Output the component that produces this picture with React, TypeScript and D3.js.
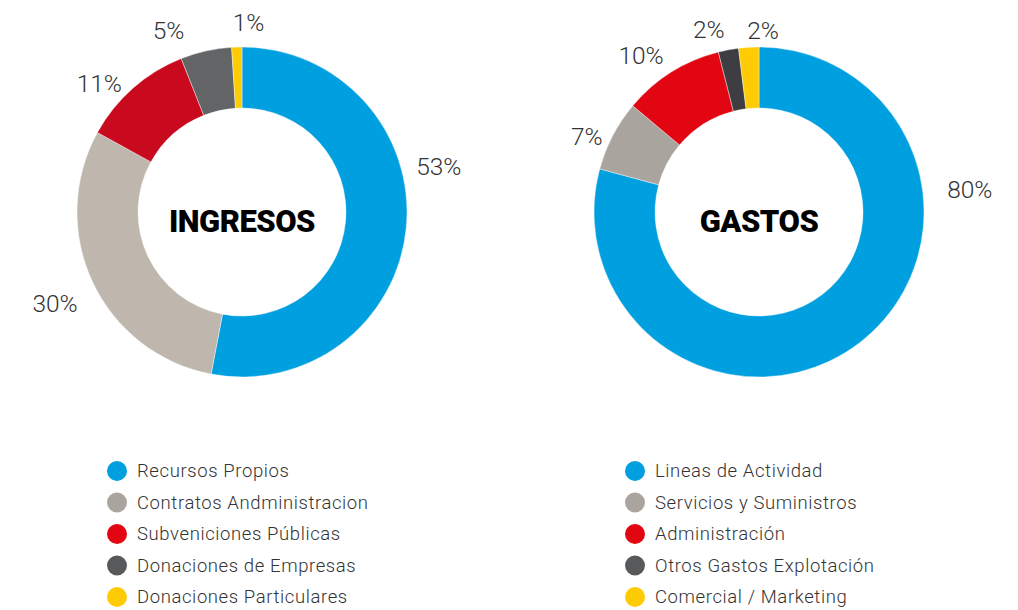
import React from "react";
import * as d3 from "d3";

// Ingresos (income) breakdown, % shares read clockwise from 12 o'clock
const ingresosLabels = [
  "Recursos Propios",
  "Contratos Andministracion",
  "Subveniciones Públicas",
  "Donaciones de Empresas",
  "Donaciones Particulares",
];
const ingresosValues = [53, 30, 11, 5, 1];
const ingresosColors = ["#009fe0", "#bfb7ae", "#c8091e", "#636466", "#ffcb05"];

// Gastos (expenses) breakdown
const gastosLabels = [
  "Lineas de Actividad",
  "Servicios y Suministros",
  "Administración",
  "Otros Gastos Explotación",
  "Comercial / Marketing",
];
const gastosValues = [80, 7, 10, 2, 2];
const gastosColors = ["#009fe0", "#aaa49e", "#e20613", "#3e3e42", "#ffcb05"];

const legendColors = ["#009fe0", "#aaa49e", "#e20613", "#58595b", "#ffcb05"];

// where each % label sits: [angle in degrees from 12 o'clock, distance from centre]
const ingresosLabelPos = [[77, 202], [244, 208], [312, 192], [338, 196], [2, 190]];
const gastosLabelPos = [[84, 212], [293.6, 188], [323, 196], [344.6, 189], [1.3, 182]];

const W = 1018;
const H = 610;
const outerR = 165;
const innerR = 104;
const font = "Roboto, 'Noto Sans', sans-serif";

type DonutProps = {
  cx: number;
  cy: number;
  title: string;
  values: number[];
  colors: string[];
  labelPos: number[][];
};

const Donut = ({ cx, cy, title, values, colors, labelPos }: DonutProps) => {
  const pie = d3.pie<number>().sort(null).value((d) => d);
  const arc = d3.arc<d3.PieArcDatum<number>>().innerRadius(innerR).outerRadius(outerR);
  const arcs = pie(values);
  return (
    <g transform={`translate(${cx},${cy})`}>
      {arcs.map((a, i) => (
        <path key={i} d={arc(a) || ""} fill={colors[i]} stroke="#fff" strokeWidth={0.4} />
      ))}
      {values.map((v, i) => {
        const [deg, r] = labelPos[i];
        const rad = (deg * Math.PI) / 180;
        return (
          <text
            key={"l" + i}
            x={Math.sin(rad) * r}
            y={-Math.cos(rad) * r}
            textAnchor="middle"
            dominantBaseline="central"
            fontFamily={font}
            fontWeight={300}
            fontSize={24.5}
            fill="#333"
          >
            {v}%
          </text>
        );
      })}
      <text
        x={0}
        y={9}
        textAnchor="middle"
        dominantBaseline="central"
        fontFamily={font}
        fontWeight={900}
        fontSize={31}
        letterSpacing={-0.5}
        fill="#000"
      >
        {title}
      </text>
    </g>
  );
};

const Legend = ({ x, y, labels }: { x: number; y: number; labels: string[] }) => {
  const rowY = d3.scalePoint<number>().domain(d3.range(labels.length)).range([0, 126]);
  return (
    <g transform={`translate(${x},${y})`}>
      {labels.map((l, i) => (
        <g key={i} transform={`translate(0,${rowY(i)})`}>
          <circle cx={0} cy={0} r={10} fill={legendColors[i]} />
          <text
            x={20}
            y={0}
            dominantBaseline="central"
            fontFamily={font}
            fontWeight={300}
            fontSize={18.5}
            letterSpacing={0.6}
            fill="#333"
          >
            {l}
          </text>
        </g>
      ))}
    </g>
  );
};

export default function App() {
  return (
    <svg width={W} height={H} style={{ display: "block", position: "absolute", left: 0, top: 0 }}>
      <rect width={W} height={H} fill="#fff" />
      <Donut cx={242} cy={212} title="INGRESOS" values={ingresosValues} colors={ingresosColors} labelPos={ingresosLabelPos} />
      <Donut cx={759} cy={212} title="GASTOS" values={gastosValues} colors={gastosColors} labelPos={gastosLabelPos} />
      <Legend x={117} y={471} labels={ingresosLabels} />
      <Legend x={635} y={471} labels={gastosLabels} />
    </svg>
  );
}
